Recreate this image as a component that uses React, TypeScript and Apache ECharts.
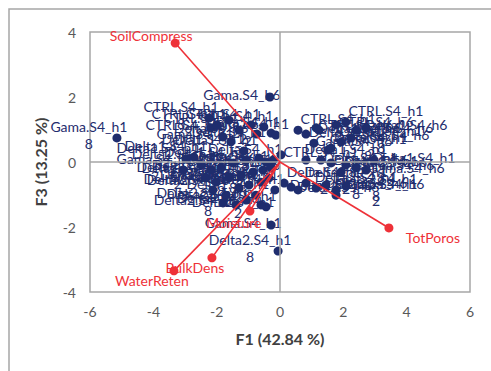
import React, { useEffect, useRef } from "react";
import * as echarts from "echarts";

// Observations (F1, F3 scores)
const obsNames = [
  "CTRL.S4_h18", "CTRL.S4_h6", "CTRL.S4_h12", "Gama.S4_h1", "CTRL.S4_h1", "Delta1.S4_h1", "Delta.S4_h6",
  "Delta1.S4_h18", "CTRL.S4_h12", "Delta.S4_h1", "CTRL.S4_h12", "Delta.S4_h12", "Delta1.S4_h12",
  "Gama.S4_h6", "Gama.S4_h18", "Delta1.S4_h18", "Delta1.S4_h12", "Gama.S4_h12", "Gama.S4_h1", "Delta2.S4_h18",
  "Delta1.S4_h12", "Delta1.S4_h6", "Delta1.S4_h1", "Delta1.S4_h18", "Delta.S4_h6", "Delta.S4_h1", "CTRL.S4_h6",
  "Delta.S4_h18", "Delta2.S4_h12", "Delta2.S4_h6", "Delta2.S4_h1", "Delta1.S4_h6", "Delta.S4_h12", "CTRL.S4_h18",
  "Delta.S4_h6", "Delta2.S4_h18", "Delta2.S4_h6", "Delta2.S4_h12", "Delta.S4_h18", "Gama.S4_h18", "Delta.S4_h1",
  "Delta2.S4_h1", "Delta2.S4_h18", "Delta2.S4_h6", "Delta1.S4_h18", "Gama.S4_h12", "Delta.S4_h18", "Delta2.S4_h1",
  "CTRL.S4_h1", "Delta.S4_h12", "Delta2.S4_h1", "Delta2.S4_h6",
  "CTRL.S4_h12", "Delta.S4_h1", "CTRL.S4_h6", "Delta1.S4_h6", "Gama.S4_h6", "Gama.S4_h18", "Delta.S4_h12",
  "Delta1.S4_h18", "CTRL.S4_h6", "CTRL.S4_h18", "Delta.S4_h6", "Delta1.S4_h6", "Gama.S4_h6",
  "Delta.S4_h1", "Delta1.S4_h1", "Delta1.S4_h12", "Delta.S4_h6", "Delta2.S4_h6", "Gama.S4_h6", "Gama.S4_h6",
  "Delta.S4_h18", "Delta2.S4_h12", "Delta2.S4_h18", "Delta2.S4_h6", "Delta2.S4_h18", "Gama.S4_h6", "Delta2.S4_h12"
];
const obsX = [
  -2.24, -2.18, -1.99, -1.8, -1.61, -1.55, -1.29,
  -1.14, -0.92, -0.73, -0.51, -0.28, -0.13,
  -0.32, -5.15, -2.97, -2.72, -3.06, -0.28, -0.06,
  -2.49, -2.18, -1.86, -1.48, -1.07, -0.66, -0.44,
  -0.22, -2.34, -2.02, -1.61, -1.23, -0.85, -0.54,
  -0.28, -2.12, -1.71, -1.29, -0.98, -0.6, -0.35,
  -1.8, -1.39, -1.07, -0.76, -0.44, -0.16, -0.6,
  0.03, 0.13, 0.35, 0.57,
  0.57, 0.82, 1.14, 1.23, 1.07, 1.52, 1.61,
  1.93, 1.77, 2.08, 2.4, 2.72, 2.24,
  1.29, 2.97, 0.82, 1.61, 2.08, 2.4, 2.72,
  1.93, 0.82, 1.14, 1.45, 1.77, 2.08, 1.77
];
const obsY = [
  1.35, 1.05, 1.14, 0.77, 1.29, 0.62, 0.98,
  0.34, 1.14, 0.86, 1.08, 0.89, 0.83,
  2.0, 0.74, 0.09, 0.15, -0.25, -1.94, -2.74,
  -0.09, -0.25, -0.18, -0.03, 0.06, 0.12, 0.0,
  0.06, -0.49, -0.62, -0.49, -0.4, -0.31, -0.25,
  -0.18, -0.86, -1.02, -0.8, -0.71, -0.62, -0.49,
  -1.26, -1.32, -1.17, -1.02, -1.38, -0.86, -1.32,
  0.22, -0.65, -0.77, -0.86,
  0.98, 0.86, 1.05, 0.98, 0.58, 0.37, 0.43,
  0.62, 1.14, 1.23, 0.98, 1.05, 0.74,
  0.06, 0.06, 0.06, -0.03, -0.09, -0.18, -0.25,
  -0.31, -0.65, -0.8, -0.71, -0.86, -0.74, -1.02
];

// Variables (loadings)
const varNames = ["SoilCompress", "TotPoros", "WaterReten", "BulkDens", "Moisture"];
const varX = [-3.31, 3.44, -3.35, -2.15, -0.95];
const varY = [3.66, -2.03, -3.35, -2.95, -1.51];

// Axis ticks
const xTicks = [-6, -4, -2, 0, 2, 4, 6];
const yTicks = [-4, -2, 0, 2, 4];

const xTitle = "F1 (42.84 %)";
const yTitle = "F3 (13.25 %)";

const FONT = "Lato, Carlito, Calibri, 'Open Sans', sans-serif";
const NAVY = "#1F2D6E";
const RED = "#EE3138";
const GREY = "#A6A6A6";

const varLabelOffset: Record<string, number[]> = {
  SoilCompress: [-24, -8],
  TotPoros: [44, 10],
  WaterReten: [-22, 10],
  BulkDens: [-17, 10],
  Moisture: [-16, 11],
};

export default function App() {
  const ref = useRef<HTMLDivElement>(null);
  useEffect(() => {
    if (!ref.current) return;
    const chart = echarts.init(ref.current, undefined, { renderer: "svg" });

    const obsData = obsX.map((x, i) => ({
      value: [x, obsY[i]],
      name: obsNames[i],
      label: { offset: x < 0 ? [-28, -3] : [40, -3] },
    }));

    const varSeries = varNames.map((n, i) => ({
      type: "line",
      name: n,
      z: 5,
      silent: true,
      lineStyle: { color: RED, width: 1.6 },
      itemStyle: { color: RED },
      symbolSize: 9,
      showSymbol: true,
      data: [
        { value: [0, 0], symbol: "none", label: { show: false } },
        {
          value: [varX[i], varY[i]],
          symbol: "circle",
          label: {
            show: true,
            position: "inside",
            offset: varLabelOffset[n],
            formatter: n,
            color: RED,
            fontFamily: FONT,
            fontSize: 14,
          },
        },
      ],
    }));

    chart.setOption({
      animation: false,
      backgroundColor: "#fff",
      graphic: [
        {
          type: "rect",
          shape: { x: 9, y: 9, width: 700, height: 700 },
          style: { fill: "none", stroke: GREY, lineWidth: 1.5 },
          silent: true,
          z: -10,
        },
      ],
      grid: {
        left: 90,
        right: 21,
        top: 32,
        bottom: 79,
        show: true,
        borderColor: GREY,
        borderWidth: 1.5,
        backgroundColor: "transparent",
      },
      xAxis: {
        type: "value",
        min: xTicks[0],
        max: xTicks[xTicks.length - 1],
        interval: 2,
        axisLine: { show: false },
        axisTick: { show: false },
        splitLine: { show: false },
        axisLabel: { color: "#595959", fontFamily: FONT, fontSize: 14, margin: 12 },
        name: xTitle,
        nameLocation: "middle",
        nameGap: 38,
        nameTextStyle: { color: "#404040", fontFamily: FONT, fontSize: 16, fontWeight: "bold" },
      },
      yAxis: {
        type: "value",
        min: yTicks[0],
        max: yTicks[yTicks.length - 1],
        interval: 2,
        axisLine: { show: false },
        axisTick: { show: false },
        splitLine: { show: false },
        axisLabel: { color: "#595959", fontFamily: FONT, fontSize: 14, margin: 14 },
        name: yTitle,
        nameLocation: "middle",
        nameGap: 42,
        nameTextStyle: { color: "#404040", fontFamily: FONT, fontSize: 16, fontWeight: "bold" },
      },
      series: [
        {
          type: "scatter",
          z: 3,
          symbolSize: 9,
          itemStyle: { color: NAVY, opacity: 1 },
          data: obsData,
          label: {
            show: true,
            position: "inside",
            align: "center",
            color: NAVY,
            fontFamily: FONT,
            fontSize: 14,
            lineHeight: 17,
            formatter: (p: any) => String(p.name).replace(/(h1)([28])$/, "$1\n$2"),
          },
          markLine: {
            silent: true,
            symbol: "none",
            label: { show: false },
            lineStyle: { color: GREY, type: "solid", width: 1.5 },
            data: [{ xAxis: 0 }, { yAxis: 0 }],
          },
        },
        ...varSeries,
      ],
    });
    return () => chart.dispose();
  }, []);
  return (
    <div
      ref={ref}
      style={{ position: "fixed", left: 0, top: 0, width: 491, height: 371 }}
    />
  );
}
